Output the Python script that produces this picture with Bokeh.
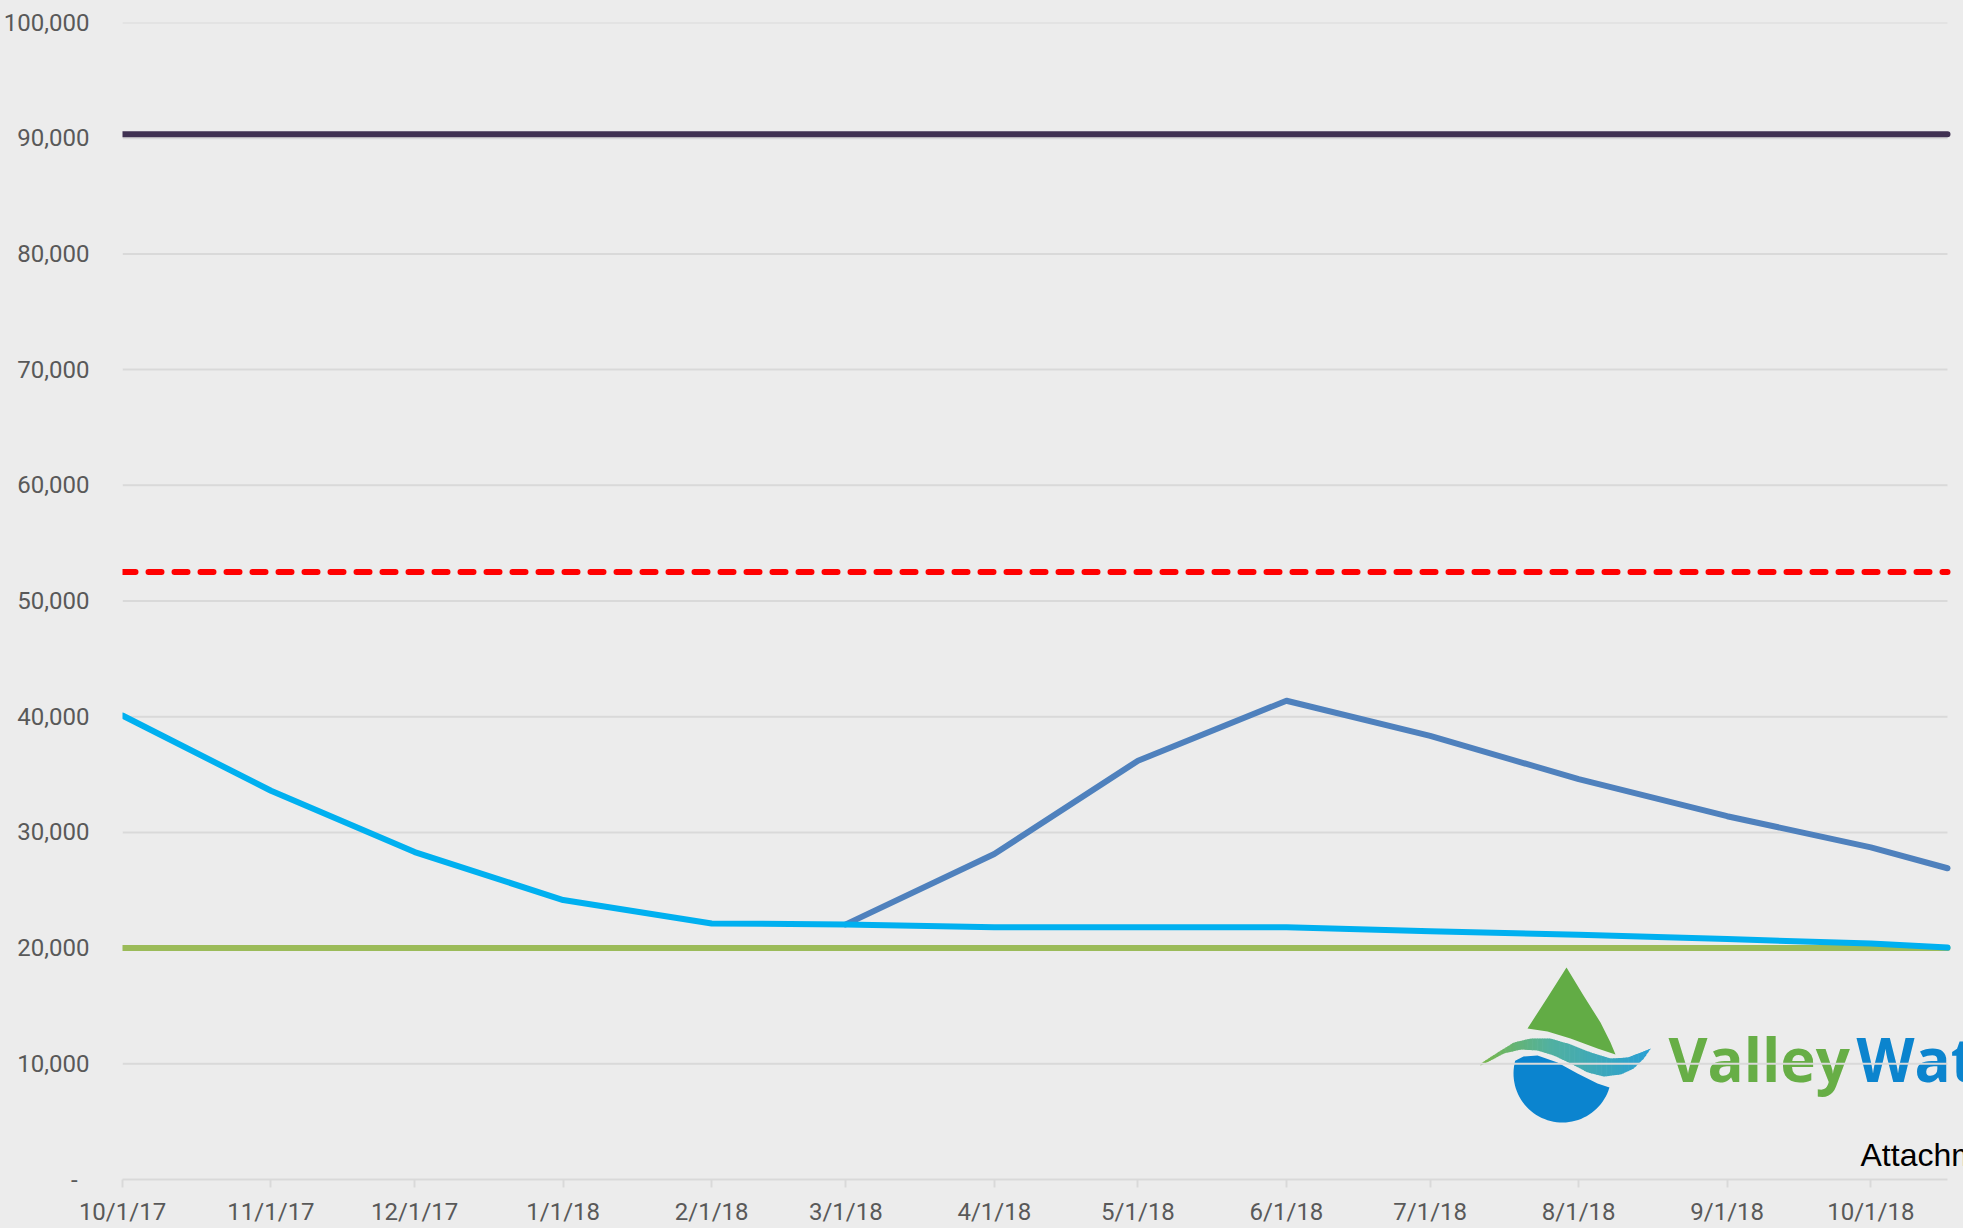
import numpy as np
import pandas as pd
from bokeh.plotting import figure
from bokeh.models import FixedTicker, Range1d, Label, GlobalInlineStyleSheet
from bokeh.embed import file_html
from bokeh.resources import INLINE

# ---------------- data ----------------
dates = ["2017-10-01", "2017-11-01", "2017-12-01", "2018-01-01", "2018-02-01",
         "2018-03-01", "2018-04-01", "2018-05-01", "2018-06-01", "2018-07-01",
         "2018-08-01", "2018-09-01", "2018-10-01", "2018-10-17"]
tick_labels = ["10/1/17", "11/1/17", "12/1/17", "1/1/18", "2/1/18", "3/1/18",
               "4/1/18", "5/1/18", "6/1/18", "7/1/18", "8/1/18", "9/1/18", "10/1/18"]

light_blue = [40100, 33600, 28300, 24150, 22130, 22050, 21800, 21800, 21800,
              21450, 21150, 20780, 20400, 20050]
dark_blue_dates = dates[5:]
dark_blue = [22050, 28130, 36200, 41380, 38350, 34600, 31400, 28700, 26900]
upper_line = [90350] * len(dates)
red_dashed = [52500] * len(dates)
green_line = [20000] * len(dates)

y_ticks = [0, 10000, 20000, 30000, 40000, 50000, 60000, 70000, 80000, 90000, 100000]
y_labels = ["-\u00a0\u00a0", "10,000", "20,000", "30,000", "40,000", "50,000", "60,000",
            "70,000", "80,000", "90,000", "100,000"]

# ---------------- helpers ----------------
def to_ms(ds):
    return [int(v) for v in (pd.to_datetime(ds).astype("int64") // 10**6)]

x = to_ms(dates)
x_db = to_ms(dark_blue_dates)
x_ticks = to_ms(dates[:-1])

W, H = 1963, 1228
FL, FT, FB = 122, 22, 1179          # frame left/top/bottom in page pixels
FR = W                              # frame runs to the right canvas edge
DATA_R = 1947                       # where the last date sits
X0, XE = x[0], x[-1]
X1 = X0 + (FR - FL) / (DATA_R - FL) * (XE - X0)

def px_x(px):
    return X0 + (np.asarray(px, dtype=float) - FL) / (FR - FL) * (X1 - X0)

def px_y(py):
    return (FB - np.asarray(py, dtype=float)) / (FB - FT) * 100000

BG = "#ECECEC"
GRID = "#D9D9D9"
LABEL = "#595959"

p = figure(width=W, height=H, output_backend="svg", toolbar_location=None,
           x_range=Range1d(X0, X1), y_range=Range1d(0, 100000),
           min_border_left=FL, min_border_right=0, min_border_top=FT,
           min_border_bottom=H - FB,
           background_fill_color=BG, border_fill_color=BG, outline_line_color=None)
p.stylesheets = [GlobalInlineStyleSheet(css="body { background-color: #ECECEC; }")]

# axes
p.yaxis.ticker = FixedTicker(ticks=y_ticks)
p.yaxis.major_label_overrides = dict(zip(y_ticks, y_labels))
p.yaxis.axis_line_color = None
p.yaxis.major_tick_line_color = None
p.yaxis.minor_tick_line_color = None
p.yaxis.major_label_standoff = 27
p.yaxis.major_label_text_font = "Roboto"
p.yaxis.major_label_text_font_size = "24px"
p.yaxis.major_label_text_color = LABEL

p.xaxis.ticker = FixedTicker(ticks=x_ticks)
p.xaxis.major_label_overrides = dict(zip(x_ticks, tick_labels))
p.xaxis.bounds = (X0, XE)
p.xaxis.axis_line_color = GRID
p.xaxis.axis_line_width = 2
p.xaxis.major_tick_line_color = GRID
p.xaxis.major_tick_line_width = 2
p.xaxis.major_tick_in = 0
p.xaxis.major_tick_out = 8
p.xaxis.minor_tick_line_color = None
p.xaxis.major_label_standoff = 10
p.xaxis.major_label_text_font = "Roboto"
p.xaxis.major_label_text_font_size = "24px"
p.xaxis.major_label_text_color = LABEL

p.xgrid.grid_line_color = None
p.ygrid.grid_line_color = None
# horizontal grid lines, spanning the dated part of the frame only
gy_vals = y_ticks[1:]
p.segment(x0=[X0] * len(gy_vals), y0=gy_vals, x1=[XE] * len(gy_vals), y1=gy_vals,
          line_color=GRID, line_width=2, level="underlay")

# ---------------- logo (decoration, behind grid) ----------------
# green top of the drop
gt = [(1566, 967), (1547, 997), (1527, 1028), (1547, 1031), (1570, 1038),
      (1597, 1048), (1615, 1054), (1610, 1042), (1600, 1022), (1583, 995)]
gx, gy = zip(*gt)
p.patch(px_x(gx), px_y(gy), fill_color="#62AC45", line_color=None, level="image")

# blue bottom of the drop
cx, cy, r = 1562, 1073, 49
th = np.deg2rad(np.linspace(17, 195, 50))
arc_x = cx + r * np.cos(th)
arc_y = cy + r * np.sin(th)
bt = [(1523, 1056), (1537, 1055), (1557, 1062), (1577, 1073), (1597, 1083), (1609, 1087)]
btx, bty = zip(*bt)
p.patch(px_x(list(arc_x) + list(btx)), px_y(list(arc_y) + list(bty)),
        fill_color="#0B84CF", line_color=None, level="image")

# wave ribbon with a green -> teal -> blue gradient
up_x = np.array([1480, 1497, 1513, 1530, 1550, 1570, 1590, 1610, 1627, 1640, 1650])
up_y = np.array([1063, 1052, 1042, 1038, 1038, 1044, 1052, 1058, 1057, 1052, 1048])
lo_x = np.array([1480, 1490, 1503, 1520, 1537, 1553, 1570, 1587, 1603, 1620, 1633, 1643, 1650])
lo_y = np.array([1065, 1060, 1053, 1049, 1050, 1055, 1063, 1072, 1076, 1074, 1068, 1058, 1048])
xs_all = np.linspace(1480, 1650, 70)
uy = np.interp(xs_all, up_x, up_y)
ly = np.interp(xs_all, lo_x, lo_y)
c0 = np.array([0x78, 0xB8, 0x4A])
c1 = np.array([0x52, 0xB1, 0xA0])
c2 = np.array([0x2A, 0xA0, 0xD4])
for i in range(len(xs_all) - 1):
    t = i / (len(xs_all) - 2)
    if t < 0.4:
        c = c0 + (c1 - c0) * (t / 0.4)
    else:
        c = c1 + (c2 - c1) * ((t - 0.4) / 0.6)
    col = "#%02x%02x%02x" % tuple(int(v) for v in c)
    qx = [xs_all[i], xs_all[i + 1] + 0.6, xs_all[i + 1] + 0.6, xs_all[i]]
    qy = [uy[i], uy[i + 1], ly[i + 1], ly[i]]
    p.patch(px_x(qx), px_y(qy), fill_color=col, line_color=None, level="image")

p.add_layout(Label(x=float(px_x(1668)), y=float(px_y(1058)), text="Valley",
                   text_font="Open Sans", text_font_style="bold", text_font_size="60px",
                   text_color="#67AE46", text_baseline="alphabetic", level="image"))
p.add_layout(Label(x=float(px_x(1856)), y=float(px_y(1058)), text="Water",
                   text_font="Open Sans", text_font_style="bold", text_font_size="60px",
                   text_color="#0B84CE", text_baseline="alphabetic", level="image"))
p.add_layout(Label(x=float(px_x(1860)), y=float(px_y(1154)), text="Attachment 1",
                   text_font="Liberation Sans", text_font_size="32px",
                   text_color="#000000", text_baseline="alphabetic"))

# ---------------- series ----------------
p.line(x, upper_line, line_color="#403152", line_width=6, line_cap="round")
p.line(x, red_dashed, line_color="#FF0000", line_width=6, line_dash="13 13",
       line_cap="round")
p.line(x, green_line, line_color="#9BBB59", line_width=6, line_cap="round")
p.line(x_db, dark_blue, line_color="#4F81BD", line_width=6, line_cap="round",
       line_join="round")
p.line(x, light_blue, line_color="#00B0F0", line_width=6, line_cap="round",
       line_join="round")

open("out.html", "w").write(file_html(p, INLINE))
